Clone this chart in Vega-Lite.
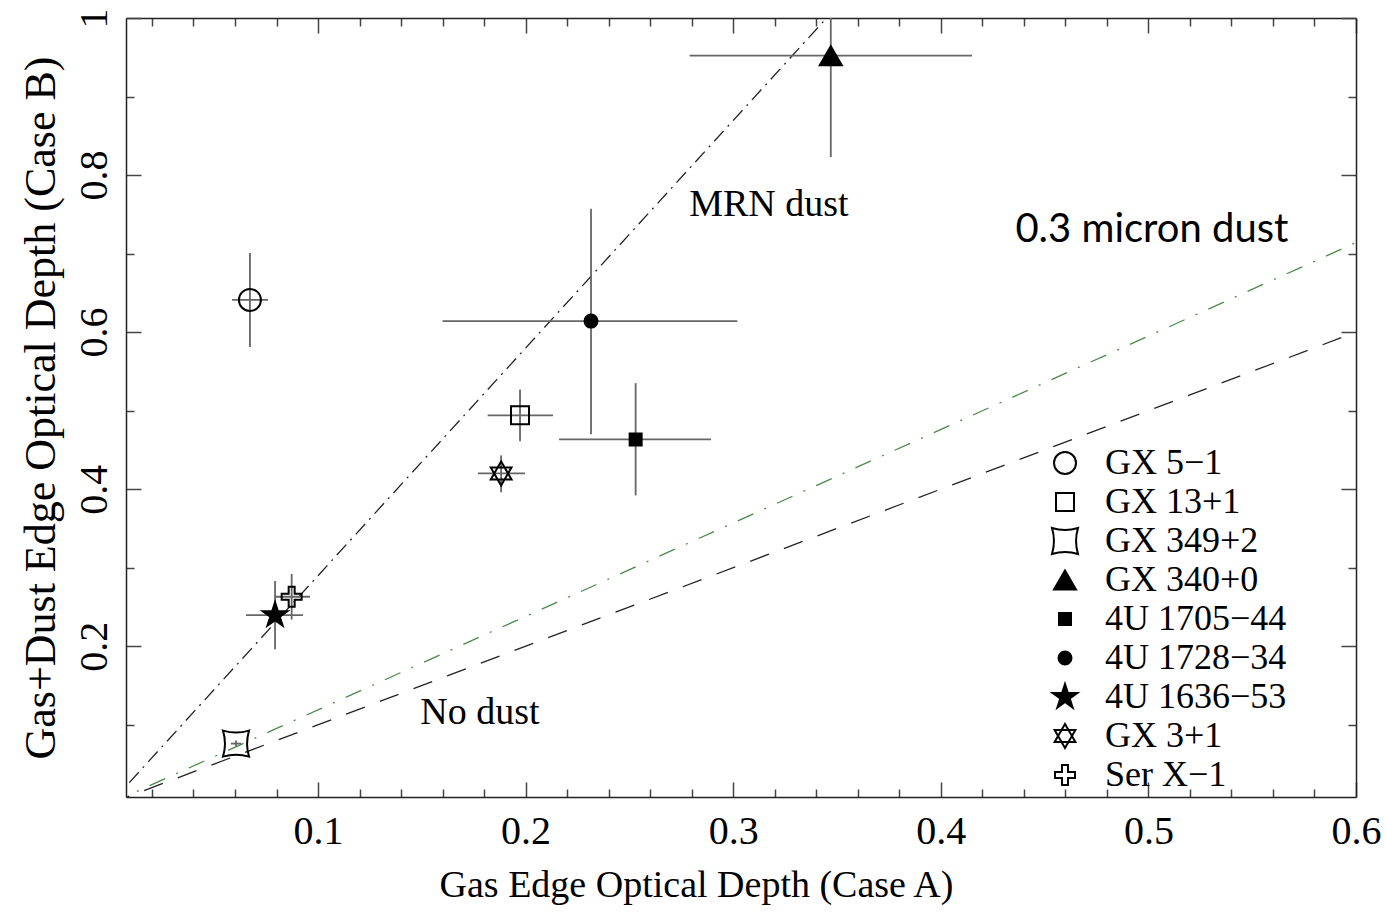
{
  "$schema": "https://vega.github.io/schema/vega-lite/v6.json",
  "width": 1230,
  "height": 779,
  "autosize": {"type": "none"},
  "padding": {"left": 126, "top": 18, "right": 30, "bottom": 118},
  "background": "white",
  "config": {
    "view": {"stroke": null},
    "font": "Liberation Serif",
    "style": {"guide-label": {"font": "Liberation Serif"}, "guide-title": {"font": "Liberation Serif"}},
    "axis": {"domainColor": "#222", "domainWidth": 1.5, "tickColor": "#444", "tickWidth": 1.5, "grid": false, "labelColor": "black", "titleColor": "black", "labelFlush": false, "labelOverlap": false, "labelFont": "Liberation Serif", "titleFont": "Liberation Serif"}
  },
  "datasets": {
    "lines": [
      {"model": "MRN", "x": 0, "y": 0},
      {"model": "MRN", "x": 0.345, "y": 1.0},
      {"model": "micron", "x": 0, "y": 0},
      {"model": "micron", "x": 0.6, "y": 0.714},
      {"model": "none", "x": 0, "y": 0},
      {"model": "none", "x": 0.6, "y": 0.6}
    ],
    "pts": [
      {"source": "GX 5−1", "x": 0.0672, "y": 0.641, "xlo": 0.0586, "xhi": 0.0759, "ylo": 0.581, "yhi": 0.7006},
      {"source": "GX 13+1", "x": 0.1973, "y": 0.494, "xlo": 0.1817, "xhi": 0.2132, "ylo": 0.461, "yhi": 0.527},
      {"source": "GX 349+2", "x": 0.0605, "y": 0.076, "xlo": 0.058, "xhi": 0.063, "ylo": 0.072, "yhi": 0.08},
      {"source": "GX 340+0", "x": 0.347, "y": 0.952, "xlo": 0.279, "xhi": 0.415, "ylo": 0.823, "yhi": 1.08},
      {"source": "4U 1705−44", "x": 0.253, "y": 0.4633, "xlo": 0.2161, "xhi": 0.2893, "ylo": 0.392, "yhi": 0.535},
      {"source": "4U 1728−34", "x": 0.2315, "y": 0.614, "xlo": 0.16, "xhi": 0.302, "ylo": 0.47, "yhi": 0.757},
      {"source": "4U 1636−53", "x": 0.0793, "y": 0.2395, "xlo": 0.0653, "xhi": 0.0928, "ylo": 0.196, "yhi": 0.283},
      {"source": "GX 3+1", "x": 0.1882, "y": 0.42, "xlo": 0.177, "xhi": 0.1997, "ylo": 0.396, "yhi": 0.443},
      {"source": "Ser X−1", "x": 0.0873, "y": 0.263, "xlo": 0.079, "xhi": 0.0961, "ylo": 0.234, "yhi": 0.292}
    ],
    "serifText": [
      {"label": "MRN dust", "x": 0.3172, "y": 0.762},
      {"label": "No dust", "x": 0.178, "y": 0.1146}
    ],
    "sansText": [
      {"label": "0.3 micron dust", "x": 0.5017, "y": 0.73}
    ]
  },
  "resolve": {"axis": {"x": "independent", "y": "independent"}},
  "layer": [
    {
      "data": {"name": "lines"},
      "mark": {"type": "line", "clip": true, "strokeWidth": 1.3},
      "encoding": {
        "x": {"field": "x", "type": "quantitative", "scale": {"domain": [0.0075, 0.6], "nice": false, "zero": false},
          "axis": {
            "orient": "bottom",
            "values": [0.02,0.04,0.06,0.08,0.1,0.12,0.14,0.16,0.18,0.2,0.22,0.24,0.26,0.28,0.3,0.32,0.34,0.36,0.38,0.4,0.42,0.44,0.46,0.48,0.5,0.52,0.54,0.56,0.58,0.6],
            "labelExpr": "abs(datum.value*10 - round(datum.value*10)) < 0.001 ? format(datum.value, '.1f') : ''",
            "tickSize": {"condition": {"test": "abs(datum.value*10 - round(datum.value*10)) < 0.001", "value": -15}, "value": -8},
            "labelPadding": 29,
            "labelFont": "Liberation Serif", "labelFontSize": 40,
            "title": "Gas Edge Optical Depth (Case A)",
            "titleFont": "Liberation Serif", "titleFontSize": 38, "titleFontWeight": "normal",
            "titleX": 570, "titleY": 88, "titleBaseline": "middle", "titleAlign": "center", "titleAnchor": "start"
          }},
        "y": {"field": "y", "type": "quantitative", "scale": {"domain": [0.008, 1], "nice": false, "zero": false},
          "axis": {
            "orient": "left",
            "values": [0.1,0.2,0.3,0.4,0.5,0.6,0.7,0.8,0.9,1.0],
            "labelExpr": "abs(datum.value*5 - round(datum.value*5)) < 0.001 ? format(datum.value, '~g') : ''",
            "tickSize": {"condition": {"test": "abs(datum.value*5 - round(datum.value*5)) < 0.001", "value": -15}, "value": -8},
            "labelPadding": 27,
            "labelAngle": -90, "labelAlign": "center", "labelBaseline": "bottom",
            "labelFont": "Liberation Serif", "labelFontSize": 40,
            "title": "Gas+Dust Edge Optical Depth (Case B)",
            "titleFont": "Liberation Serif", "titleFontSize": 44, "titleFontWeight": "normal", "titlePadding": 4
          }},
        "color": {"field": "model", "type": "nominal", "scale": {"domain": ["MRN", "micron", "none"], "range": ["#222222", "#4a8a4a", "#222222"]}, "legend": null},
        "strokeDash": {"field": "model", "type": "nominal", "scale": {"domain": ["MRN", "micron", "none"], "range": [[14, 6, 2, 6], [17, 12, 2, 12], [20, 16]]}, "legend": null}
      }
    },
    {
      "data": {"name": "pts"},
      "mark": {"type": "rule", "clip": true, "color": "#666", "strokeWidth": 1.8},
      "encoding": {
        "x": {"field": "xlo", "type": "quantitative", "scale": {"domain": [0.0075, 0.6], "nice": false, "zero": false},
          "axis": {
            "orient": "top",
            "values": [0.02,0.04,0.06,0.08,0.1,0.12,0.14,0.16,0.18,0.2,0.22,0.24,0.26,0.28,0.3,0.32,0.34,0.36,0.38,0.4,0.42,0.44,0.46,0.48,0.5,0.52,0.54,0.56,0.58,0.6],
            "labels": false, "title": null,
            "tickSize": {"condition": {"test": "abs(datum.value*10 - round(datum.value*10)) < 0.001", "value": -15}, "value": -8}
          }},
        "x2": {"field": "xhi"},
        "y": {"field": "y", "type": "quantitative", "scale": {"domain": [0.008, 1], "nice": false, "zero": false},
          "axis": {
            "orient": "right",
            "values": [0.1,0.2,0.3,0.4,0.5,0.6,0.7,0.8,0.9,1.0],
            "labels": false, "title": null,
            "tickSize": {"condition": {"test": "abs(datum.value*5 - round(datum.value*5)) < 0.001", "value": -15}, "value": -8}
          }}
      }
    },
    {
      "data": {"name": "pts"},
      "mark": {"type": "rule", "clip": true, "color": "#666", "strokeWidth": 1.8},
      "encoding": {
        "x": {"field": "x", "type": "quantitative", "scale": {"domain": [0.0075, 0.6], "nice": false, "zero": false}, "axis": null},
        "y": {"field": "ylo", "type": "quantitative", "scale": {"domain": [0.008, 1], "nice": false, "zero": false}, "axis": null},
        "y2": {"field": "yhi"}
      }
    },
    {
      "data": {"name": "pts"},
      "mark": {"type": "point", "filled": true, "stroke": "black", "strokeWidth": 2, "opacity": 1},
      "encoding": {
        "x": {"field": "x", "type": "quantitative", "scale": {"domain": [0.0075, 0.6], "nice": false, "zero": false}, "axis": null},
        "y": {"field": "y", "type": "quantitative", "scale": {"domain": [0.008, 1], "nice": false, "zero": false}, "axis": null},
        "shape": {"field": "source", "type": "nominal",
          "scale": {"domain": ["GX 5−1", "GX 13+1", "GX 349+2", "GX 340+0", "4U 1705−44", "4U 1728−34", "4U 1636−53", "GX 3+1", "Ser X−1"],
            "range": ["circle", "square", "M-1,-1Q0,-0.7,1,-1Q0.7,0,1,1Q0,0.7,-1,1Q-0.7,0,-1,-1Z", "triangle-up", "square", "circle",
              "M0,-1L0.225,-0.309L0.951,-0.309L0.363,0.118L0.588,0.809L0,0.382L-0.588,0.809L-0.363,0.118L-0.951,-0.309L-0.225,-0.309Z",
              "M0,-1L0.866,0.5L-0.866,0.5ZM0,1L0.866,-0.5L-0.866,-0.5Z",
              "M-0.3,-1H0.3V-0.3H1V0.3H0.3V1H-0.3V0.3H-1V-0.3H-0.3Z"]},
          "legend": {
            "orient": "none", "legendX": 921, "legendY": 427, "title": null,
            "labelFont": "Liberation Serif", "labelFontSize": 36, "labelColor": "black", "labelLimit": 400,
            "rowPadding": 3, "labelOffset": 22, "symbolStrokeWidth": 2, "symbolStrokeColor": "black"
          }},
        "fill": {"field": "source", "type": "nominal",
          "scale": {"domain": ["GX 5−1", "GX 13+1", "GX 349+2", "GX 340+0", "4U 1705−44", "4U 1728−34", "4U 1636−53", "GX 3+1", "Ser X−1"],
            "range": ["transparent", "transparent", "transparent", "black", "black", "black", "black", "transparent", "transparent"]}},
        "size": {"field": "source", "type": "nominal",
          "scale": {"type": "ordinal", "domain": ["GX 5−1", "GX 13+1", "GX 349+2", "GX 340+0", "4U 1705−44", "4U 1728−34", "4U 1636−53", "GX 3+1", "Ser X−1"],
            "range": [484, 324, 676, 484, 144, 169, 676, 576, 400]}}
      }
    },
    {
      "data": {"name": "serifText"},
      "mark": {"type": "text", "font": "Liberation Serif", "fontSize": 38, "color": "black", "align": "center", "baseline": "middle"},
      "encoding": {
        "x": {"field": "x", "type": "quantitative", "scale": {"domain": [0.0075, 0.6], "nice": false, "zero": false}, "axis": null},
        "y": {"field": "y", "type": "quantitative", "scale": {"domain": [0.008, 1], "nice": false, "zero": false}, "axis": null},
        "text": {"field": "label"}
      }
    },
    {
      "data": {"name": "sansText"},
      "mark": {"type": "text", "font": "Lato", "fontSize": 40, "color": "black", "align": "center", "baseline": "middle"},
      "encoding": {
        "x": {"field": "x", "type": "quantitative", "scale": {"domain": [0.0075, 0.6], "nice": false, "zero": false}, "axis": null},
        "y": {"field": "y", "type": "quantitative", "scale": {"domain": [0.008, 1], "nice": false, "zero": false}, "axis": null},
        "text": {"field": "label"}
      }
    }
  ]
}
